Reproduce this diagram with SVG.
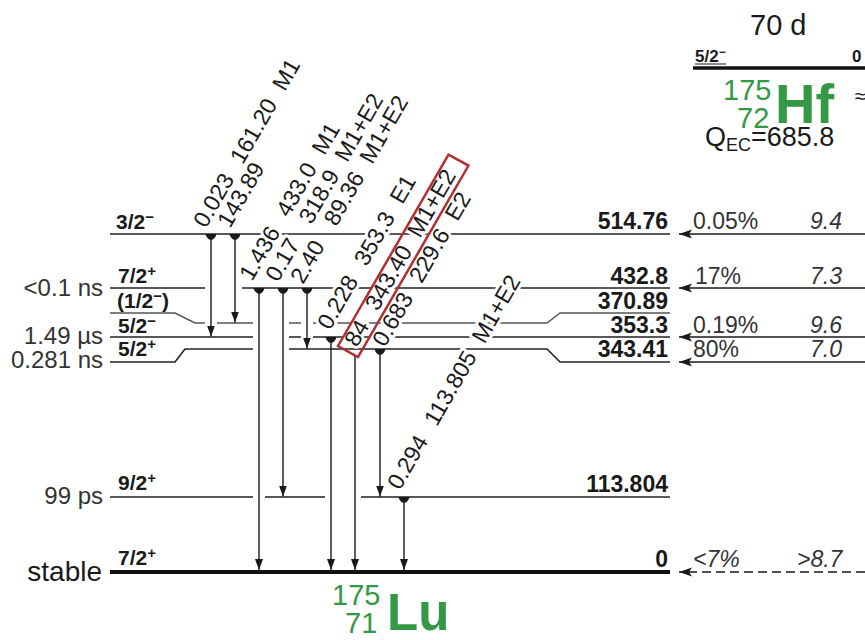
<svg xmlns="http://www.w3.org/2000/svg" width="865" height="640" viewBox="0 0 865 640">
<style>
text{font-family:"Liberation Sans",Arial,sans-serif;fill:#1a1a1a}
.lvl{stroke:#222;stroke-width:1.6;fill:none}
.lvlg{stroke:#555;stroke-width:1.4;fill:none}
.gnd{stroke:#111;stroke-width:4;fill:none}
.tr{stroke:#1a1a1a;stroke-width:1.4;fill:none}
.gl{font-size:23px;stroke:#fff;stroke-width:6;stroke-linejoin:round;paint-order:stroke}
.b{font-weight:bold}
.en{font-size:23px;font-weight:bold;text-anchor:end}
.sp{font-size:21px;font-weight:bold}
.sup{font-size:15px}
.hl{font-size:24px;text-anchor:end;fill:#333}
.pc{font-size:23px;fill:#333}
.ft{font-size:23px;font-style:italic;fill:#333}
.grn{fill:#339944}
.fd{stroke:#1a1a1a;stroke-width:1.4;fill:none}
</style>
<defs>
<marker id="ah" markerUnits="userSpaceOnUse" markerWidth="12" markerHeight="10" viewBox="0 -5 12 10" refX="11" refY="0" orient="auto">
<path d="M0,-4 L11,0 L0,4 Z" fill="#1a1a1a"/>
</marker>
<marker id="ahr" markerUnits="userSpaceOnUse" markerWidth="14" markerHeight="10" viewBox="0 -5 14 10" refX="13" refY="0" orient="auto">
<path d="M0,-4.5 L13,0 L0,4.5 L3,0 Z" fill="#1a1a1a"/>
</marker>
<marker id="dot" markerUnits="userSpaceOnUse" markerWidth="8" markerHeight="12" viewBox="-1 -6 8 12" refX="0" refY="0" orient="auto">
<path d="M0,-5.5 C3,-5 6,-2 6,0 C6,2 3,5 0,5.5 Z" fill="#1a1a1a"/>
</marker>
</defs>
<rect width="865" height="640" fill="#fff"/>

<!-- Parent 175Hf -->
<g id="parent">
<text x="750" y="35" style="font-size:29px">70 d</text>
<line class="gnd" x1="693" y1="68" x2="865" y2="68" style="stroke-width:3.5"/>
<text x="695" y="62" class="b" style="font-size:17px">5/2<tspan dy="-6" style="font-size:12px">−</tspan></text>
<line x1="695" y1="64" x2="726" y2="64" stroke="#1a1a1a" stroke-width="1"/>
<text x="852" y="62" class="b" style="font-size:17px">0</text>
<text x="723" y="100" class="grn" style="font-size:29px">175</text>
<text x="737" y="128" class="grn" style="font-size:29px">72</text>
<text x="775" y="123" class="grn b" style="font-size:56px">Hf</text>
<text x="855" y="103" style="font-size:20px">≈</text>
<text x="705" y="146" style="font-size:27px">Q<tspan dy="5" style="font-size:18px">EC</tspan><tspan dy="-5">=685.8</tspan></text>
</g>

<!-- Levels -->
<g id="levels">
<g id="lvl-514">
<path class="lvl" d="M110,234 H670"/>
<text class="sp" x="116" y="229">3/2<tspan class="sup" dy="-7">−</tspan></text>
<text class="en" x="668" y="229">514.76</text>
</g>
<g id="lvl-432">
<path class="lvl" d="M110,288 H205 M242,288 H670"/>
<text class="hl" x="103" y="296">&lt;0.1 ns</text>
<text class="sp" x="118" y="283">7/2<tspan class="sup" dy="-7">+</tspan></text>
<text class="en" x="668" y="284">432.8</text>
</g>
<g id="lvl-370">
<path class="lvlg" d="M110,313 H175 L195,323 H205 M217,323 H253 M289,323 H301 M313,323 H547 L560,313 H670"/>
<text class="sp" x="117" y="308">(1/2<tspan class="sup" dy="-7">−</tspan><tspan dy="7">)</tspan></text>
<text class="en" x="668" y="309">370.89</text>
</g>
<g id="lvl-353">
<path class="lvl" d="M110,337 H253 M289,337 H301 M313,337 H670"/>
<text class="hl" x="103" y="344">1.49 µs</text>
<text class="sp" x="118" y="333">5/2<tspan class="sup" dy="-7">−</tspan></text>
<text class="en" x="668" y="333">353.3</text>
</g>
<g id="lvl-343">
<path class="lvl" d="M110,362 H175 L185,349 H253 M289,349 H547 L560,362 H670"/>
<text class="hl" x="103" y="368">0.281 ns</text>
<text class="sp" x="118" y="356">5/2<tspan class="sup" dy="-7">+</tspan></text>
<text class="en" x="668" y="357">343.41</text>
</g>
<g id="lvl-113">
<path class="lvl" d="M110,497 H253 M265,497 H325 M361,497 H670"/>
<text class="hl" x="103" y="504">99 ps</text>
<text class="sp" x="118" y="490">9/2<tspan class="sup" dy="-7">+</tspan></text>
<text class="en" x="668" y="492">113.804</text>
</g>
<g id="lvl-0">
<path class="gnd" d="M110,572 H670"/>
<text x="102" y="581" style="font-size:28px;text-anchor:end">stable</text>
<text class="sp" x="118" y="565">7/2<tspan class="sup" dy="-7">+</tspan></text>
<text class="en" x="668" y="567">0</text>
</g>
</g>

<!-- Daughter label -->
<g id="daughter">
<text x="332" y="605" class="grn" style="font-size:29px">175</text>
<text x="345" y="633" class="grn" style="font-size:29px">71</text>
<text x="387" y="630" class="grn b" style="font-size:51px">Lu</text>
</g>

<!-- Gamma labels -->
<g id="gamma-labels">
<text class="gl" transform="translate(206,229) rotate(-60)">0.023<tspan dx="16">161.20</tspan><tspan dx="14">M1</tspan></text>
<text class="gl" transform="translate(230,229) rotate(-60)">143.89</text>
<text class="gl" transform="translate(252,282) rotate(-60)">1.436<tspan dx="16">433.0</tspan><tspan dx="14">M1</tspan></text>
<text class="gl" transform="translate(278,283) rotate(-60)">0.17<tspan dx="22">318.9</tspan><tspan dx="14">M1+E2</tspan></text>
<text class="gl" transform="translate(303,285) rotate(-60)">2.40<tspan dx="22">89.36</tspan><tspan dx="14">M1+E2</tspan></text>
<text class="gl" transform="translate(330,331) rotate(-60)">0.228<tspan dx="16">353.3</tspan><tspan dx="14">E1</tspan></text>
<text class="gl" transform="translate(357,348) rotate(-60)">84<tspan dx="16">343.40</tspan><tspan dx="14">M1+E2</tspan></text>
<text class="gl" transform="translate(385,348) rotate(-60)">0.683<tspan dx="16">229.6</tspan><tspan dx="14">E2</tspan></text>
<text class="gl" transform="translate(400,491) rotate(-60)">0.294<tspan dx="16">113.805</tspan><tspan dx="14">M1+E2</tspan></text>
</g>

<!-- Transitions -->
<g id="transitions">
<path class="tr" d="M211,234 V336.5" marker-start="url(#dot)" marker-end="url(#ah)"/>
<path class="tr" d="M235,234 V322.5" marker-start="url(#dot)" marker-end="url(#ah)"/>
<path class="tr" d="M259,288 V570" marker-start="url(#dot)" marker-end="url(#ah)"/>
<path class="tr" d="M283,288 V496.5" marker-start="url(#dot)" marker-end="url(#ah)"/>
<path class="tr" d="M307,288 V348.5" marker-start="url(#dot)" marker-end="url(#ah)"/>
<path class="tr" d="M331,337 V570" marker-start="url(#dot)" marker-end="url(#ah)"/>
<path class="tr" d="M355,356 V570" marker-end="url(#ah)"/>
<path class="tr" d="M380,349 V496.5" marker-start="url(#dot)" marker-end="url(#ah)"/>
<path class="tr" d="M404,497 V570" marker-start="url(#dot)" marker-end="url(#ah)"/>
<path class="fd" d="M865,234 H679" marker-end="url(#ahr)"/>
<path class="fd" d="M865,288 H679" marker-end="url(#ahr)"/>
<path class="fd" d="M865,337 H679" marker-end="url(#ahr)"/>
<path class="fd" d="M865,362 H679" marker-end="url(#ahr)"/>
<path class="fd" d="M865,572 H679" stroke-dasharray="9 5" marker-end="url(#ahr)"/>
</g>

<!-- Feeding labels -->
<g id="feeding-labels">
<text class="pc" x="693" y="229">0.05%</text><text class="ft" x="810" y="229">9.4</text>
<text class="pc" x="695" y="284">17%</text><text class="ft" x="810" y="284">7.3</text>
<text class="pc" x="693" y="333">0.19%</text><text class="ft" x="810" y="333">9.6</text>
<text class="pc" x="693" y="357">80%</text><text class="ft" x="810" y="357">7.0</text>
<text class="ft" x="693" y="567">&lt;7%</text><text class="ft" x="797" y="567">&gt;8.7</text>
</g>

<!-- Highlight box -->
<polygon id="highlight" points="338,346 448.5,154.6 468.5,165.6 358,357" fill="none" stroke="#b03035" stroke-width="2.5"/>
</svg>
